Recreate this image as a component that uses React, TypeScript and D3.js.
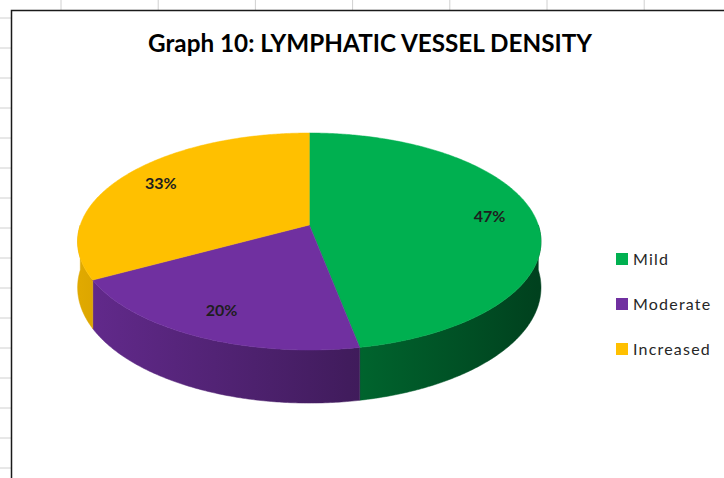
import React from "react";
import * as d3 from "d3";

// Share of cases by lymphatic vessel density grade (percent)
const categories = ["Mild", "Moderate", "Increased"];
const values = [47, 20, 33];
const labels = ["47%", "20%", "33%"];
const colors = ["#00b050", "#7030a0", "#ffc000"];

const W = 724;
const H = 478;

// Perspective projection of a tilted disk
const CX = 309.3;
const CY = 225;
const RX = 229; // horizontal radius scale
const RY = 106; // vertical radius scale
const PERSP = 0.152; // foreshortening of the far side
const DEPTH = 45; // thickness of the disk

function project(theta: number, r: number, drop: number): [number, number] {
  const u = r * Math.sin(theta);
  const v = r * Math.cos(theta);
  const den = 1 + PERSP * v;
  return [CX + (RX * u) / den, CY - (RY * v) / den + (DEPTH * drop) / den];
}

function sample(a0: number, a1: number, r: number, drop: number) {
  const n = Math.max(2, Math.ceil(Math.abs(a1 - a0) / 0.01));
  const pts: [number, number][] = [];
  for (let i = 0; i <= n; i++) {
    pts.push(project(a0 + ((a1 - a0) * i) / n, r, drop));
  }
  return pts;
}

const line = d3.line<[number, number]>();

export default function App() {
  const pie = d3
    .pie<number>()
    .sort(null)
    .startAngle(0)
    .endAngle(2 * Math.PI);
  const arcs = pie(values);

  const shade = d3
    .scaleLinear<number>()
    .domain([CX - RX, CX + RX])
    .range([0.88, 0.37]);

  // Side walls: only the front half (angles 90°..270°) faces the viewer
  const front0 = Math.PI / 2;
  const front1 = (3 * Math.PI) / 2;
  const sides = arcs
    .map((a, i) => {
      const s = Math.max(a.startAngle, front0);
      const e = Math.min(a.endAngle, front1);
      if (e <= s) return null;
      const top = sample(s, e, 1, 0);
      const bottom = sample(e, s, 1, 1);
      return { i, d: line([...top, ...bottom])! + "Z" };
    })
    .filter(Boolean) as { i: number; d: string }[];

  const tops = arcs.map((a, i) => {
    const rim = sample(a.startAngle, a.endAngle, 1, 0);
    return { i, d: line([[CX, CY], ...rim])! + "Z" };
  });

  const labelPos = arcs.map((a) => project((a.startAngle + a.endAngle) / 2, 0.8, 0));

  // Spreadsheet grid showing around the chart frame
  const colX = d3.range(7).map((k) => 61 + k * 97.2);
  const rowY = d3.range(16).map((k) => 18 + k * 30);

  const legendX = 616;
  const legendY = d3.scalePoint<string>().domain(categories).range([259, 349]);

  return (
    <svg
      width={W}
      height={H}
      style={{ position: "absolute", left: 0, top: 0, background: "#fff" }}
      fontFamily="Lato, 'Open Sans', sans-serif"
    >
      <defs>
        {colors.map((c, i) => (
          <linearGradient
            key={i}
            id={`side${i}`}
            gradientUnits="userSpaceOnUse"
            x1={CX - RX}
            x2={CX + RX}
            y1={0}
            y2={0}
          >
            {[0, 0.5, 1].map((t) => {
              const x = CX - RX + t * 2 * RX;
              const k = shade(x);
              const base = d3.rgb(c);
              const col = d3.rgb(base.r * k, base.g * k, base.b * k);
              return <stop key={t} offset={t} stopColor={col.formatHex()} />;
            })}
          </linearGradient>
        ))}
      </defs>

      {colX.map((x, k) => (
        <line key={`c${k}`} x1={x} x2={x} y1={0} y2={10} stroke="#d0d0d0" strokeWidth={1} />
      ))}
      {rowY.map((y, k) => (
        <line key={`r${k}`} x1={0} x2={11} y1={y} y2={y} stroke="#d0d0d0" strokeWidth={1} />
      ))}

      {/* chart frame */}
      <rect x={11.5} y={10.5} width={W + 20} height={H + 20} fill="#fff" stroke="#1a1a1a" strokeWidth={1.5} />

      <text
        x={370}
        y={52}
        textAnchor="middle"
        fontSize={24}
        fontWeight={700}
        fill="#000"
        textLength={444}
        lengthAdjust="spacingAndGlyphs"
      >
        Graph 10: LYMPHATIC VESSEL DENSITY
      </text>

      <g>
        {sides.map((s) => (
          <path key={`s${s.i}`} d={s.d} fill={`url(#side${s.i})`} stroke={`url(#side${s.i})`} strokeWidth={0.5} />
        ))}
        {tops.map((t) => (
          <path key={`t${t.i}`} d={t.d} fill={colors[t.i]} stroke={colors[t.i]} strokeWidth={0.5} />
        ))}
      </g>

      {labelPos.map(([x, y], i) => (
        <text
          key={`l${i}`}
          x={x}
          y={y}
          dy="0.3em"
          textAnchor="middle"
          fontSize={16}
          fontWeight={700}
          fill="#1e1e1e"
        >
          {labels[i]}
        </text>
      ))}

      <g>
        {categories.map((c, i) => (
          <g key={c} transform={`translate(${legendX},${legendY(c)})`}>
            <rect x={0} y={-6} width={12} height={12} fill={colors[i]} />
            <text x={17} y={0} dy="0.36em" fontSize={16} fill="#262626" letterSpacing={1.2}>
              {c}
            </text>
          </g>
        ))}
      </g>
    </svg>
  );
}
